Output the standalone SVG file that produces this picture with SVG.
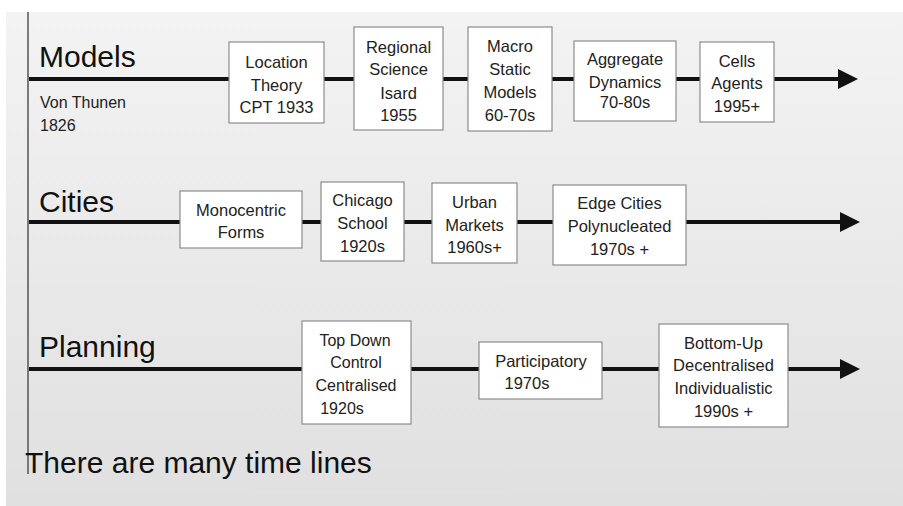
<svg xmlns="http://www.w3.org/2000/svg" width="903" height="506" viewBox="0 0 903 506">
<defs>
<linearGradient id="bg" x1="0" y1="0" x2="0" y2="1">
<stop offset="0" stop-color="#f3f3f3"/>
<stop offset="1" stop-color="#e0e0e0"/>
</linearGradient>
<marker id="arr" markerUnits="userSpaceOnUse" markerWidth="20" markerHeight="20" refX="0" refY="10" orient="auto">
<path d="M0,0 L20,10 L0,20 Z" fill="#111"/>
</marker>
<style>
.box{fill:#fff;stroke:#8c8c8c;stroke-width:1.2}
.t{font-family:"Liberation Sans",Arial,sans-serif;font-size:16.5px;fill:#222;text-anchor:middle}
.h{font-family:"Liberation Sans",Arial,sans-serif;font-size:30px;fill:#111}
.s{font-family:"Liberation Sans",Arial,sans-serif;font-size:16px;fill:#222}
.ln{stroke:#111;stroke-width:4;fill:none}
</style>
</defs>
<rect x="0" y="0" width="903" height="506" fill="#fff"/>
<rect x="6" y="12" width="897" height="494" fill="url(#bg)"/>
<line x1="28" y1="12" x2="28" y2="474" stroke="#555" stroke-width="1.5"/>

<g id="connectors">
<line class="ln" x1="29" y1="79" x2="838" y2="79" marker-end="url(#arr)"/>
<line class="ln" x1="29" y1="222" x2="840" y2="222" marker-end="url(#arr)"/>
<line class="ln" x1="29" y1="369" x2="840" y2="369" marker-end="url(#arr)"/>
</g>

<g id="labels">
<text class="h" x="39" y="67">Models</text>
<text class="s" x="40" y="108">Von Thunen</text>
<text class="s" x="40" y="131">1826</text>
<text class="h" x="39" y="212">Cities</text>
<text class="h" x="39" y="357">Planning</text>
<text class="h" x="25" y="473">There are many time lines</text>
</g>

<g id="n-location">
<rect class="box" x="229" y="42" width="95" height="81"/>
<text class="t" x="276.5" y="68">Location</text>
<text class="t" x="276.5" y="91">Theory</text>
<text class="t" x="276.5" y="113">CPT 1933</text>
</g>
<g id="n-regional">
<rect class="box" x="354" y="27" width="89" height="103"/>
<text class="t" x="398.5" y="53">Regional</text>
<text class="t" x="398.5" y="75">Science</text>
<text class="t" x="398.5" y="99">Isard</text>
<text class="t" x="398.5" y="121">1955</text>
</g>
<g id="n-macro">
<rect class="box" x="468" y="27" width="84" height="104"/>
<text class="t" x="510" y="52">Macro</text>
<text class="t" x="510" y="75">Static</text>
<text class="t" x="510" y="98">Models</text>
<text class="t" x="510" y="121">60-70s</text>
</g>
<g id="n-aggregate">
<rect class="box" x="574" y="41" width="102" height="80"/>
<text class="t" x="625" y="65">Aggregate</text>
<text class="t" x="625" y="88">Dynamics</text>
<text class="t" x="625" y="108">70-80s</text>
</g>
<g id="n-cells">
<rect class="box" x="700" y="42" width="74" height="80"/>
<text class="t" x="737" y="67">Cells</text>
<text class="t" x="737" y="89">Agents</text>
<text class="t" x="737" y="112">1995+</text>
</g>

<g id="n-monocentric">
<rect class="box" x="180" y="191" width="122" height="57"/>
<text class="t" x="241" y="216">Monocentric</text>
<text class="t" x="241" y="238">Forms</text>
</g>
<g id="n-chicago">
<rect class="box" x="321" y="182" width="83" height="79"/>
<text class="t" x="362.5" y="206">Chicago</text>
<text class="t" x="362.5" y="229">School</text>
<text class="t" x="362.5" y="252">1920s</text>
</g>
<g id="n-urban">
<rect class="box" x="432" y="183" width="85" height="80"/>
<text class="t" x="474.5" y="208">Urban</text>
<text class="t" x="474.5" y="231">Markets</text>
<text class="t" x="474.5" y="253">1960s+</text>
</g>
<g id="n-edge">
<rect class="box" x="553" y="185" width="133" height="80"/>
<text class="t" x="619.5" y="209">Edge Cities</text>
<text class="t" x="619.5" y="232">Polynucleated</text>
<text class="t" x="619.5" y="255">1970s +</text>
</g>

<g id="n-topdown">
<rect class="box" x="302" y="321" width="109" height="103"/>
<text class="t" x="355" y="346" style="font-size:16px">Top Down</text>
<text class="t" x="356" y="368" style="font-size:16px">Control</text>
<text class="t" x="356" y="391" style="font-size:16px">Centralised</text>
<text class="t" x="342" y="414" style="font-size:16px">1920s</text>
</g>
<g id="n-participatory">
<rect class="box" x="479" y="342" width="123" height="57"/>
<text class="t" x="541" y="367">Participatory</text>
<text class="t" x="527" y="389">1970s</text>
</g>
<g id="n-bottomup">
<rect class="box" x="659" y="324" width="129" height="103"/>
<text class="t" x="723.5" y="349">Bottom-Up</text>
<text class="t" x="723.5" y="371">Decentralised</text>
<text class="t" x="723.5" y="394">Individualistic</text>
<text class="t" x="723.5" y="417">1990s +</text>
</g>
</svg>
